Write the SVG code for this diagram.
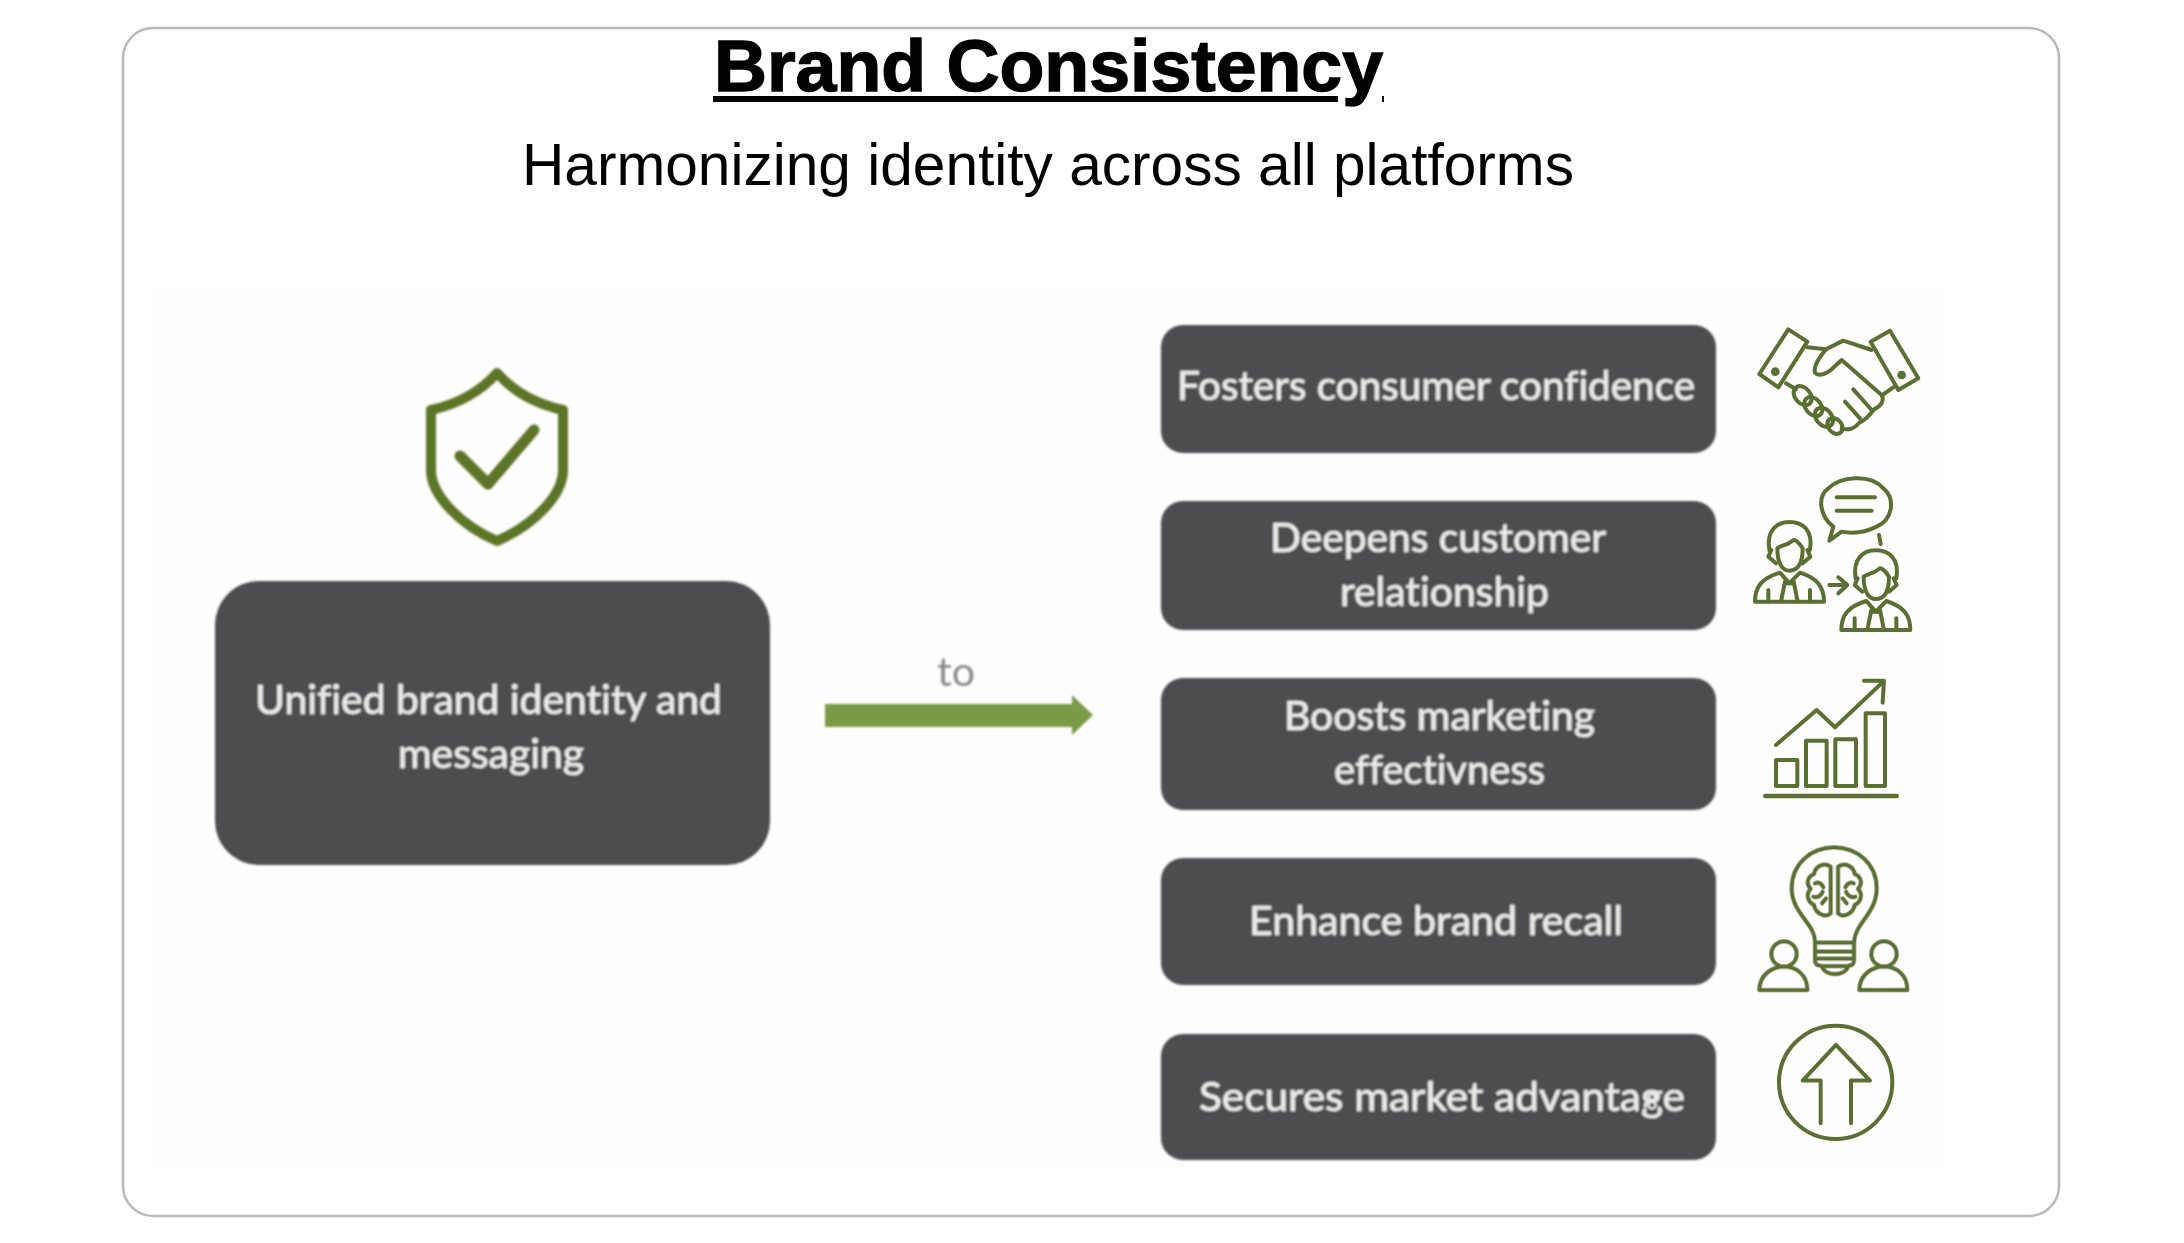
<svg xmlns="http://www.w3.org/2000/svg" width="2184" height="1243" viewBox="0 0 2184 1243">
<style>
.box{fill:#4e4e4f}
.lbl{font-family:"Lato","Carlito","Liberation Sans",sans-serif;font-size:40px;fill:#ececec;stroke:#ececec;stroke-width:.6;font-variant-ligatures:none}
.ico{fill:none;stroke:#5a6f33;stroke-width:12;stroke-linejoin:round;stroke-linecap:round}
.h{font-family:"Liberation Sans",Arial,sans-serif;fill:#000}
</style>
<defs>
<filter id="soft" x="-5%" y="-5%" width="110%" height="110%"><feGaussianBlur stdDeviation="0.9"/></filter>
<g id="man">
<path d="M208,750C198,690 232,666 268,666C308,666 340,690 330,750"/>
<path d="M232,745C232,795 250,812 268,812C290,812 308,795 308,745C298,728 285,718 280,720C265,735 245,735 232,745Z"/>
<path d="M214,750L205,770L228,790M322,750L331,770L308,790"/>
<path d="M165,905C165,860 185,835 240,818L268,850L300,818C352,835 372,860 372,905Z"/>
<path d="M255,845L243,905M281,845L293,905M255,850H281M205,905V870M330,905V870"/>
</g>
<g id="bust">
<circle cx="252" cy="912" r="38"/>
<path d="M178,1020C178,975 215,950 252,950C290,950 322,975 322,1020Z"/>
</g>
</defs>
<rect id="frame" x="123" y="28" width="1936" height="1188" rx="30" fill="#fff" stroke="#b9b9b9" stroke-width="2.5"/>
<rect x="150" y="285" width="1793" height="885" fill="#fefefe"/>
<g id="title">
<text class="h" x="714" y="91" font-size="72" font-weight="700" stroke="#000" stroke-width="1.4" textLength="669" lengthAdjust="spacingAndGlyphs">Brand Consistency</text>
<rect x="713" y="96" width="625" height="6" fill="#000"/>
<rect x="1382" y="96" width="2" height="6" fill="#000"/>
</g>
<g id="subtitle"><text class="h" x="522" y="185" font-size="60" textLength="1052" lengthAdjust="spacingAndGlyphs">Harmonizing identity across all platforms</text></g>

<g id="connectors" filter="url(#soft)">
<path d="M825,704H1072V695L1093,715L1072,735V727H825Z" fill="#7a9a45"/>
<text x="937" y="686" font-family="Lato,'Liberation Sans',sans-serif" font-size="40" fill="#8a8a8a" textLength="38" lengthAdjust="spacingAndGlyphs">to</text>
</g>

<g id="shield" class="ico" filter="url(#soft)" style="stroke:#5b7526;stroke-width:10">
<path d="M497,373C480,392 458,404 431,410V470C431,495 460,525 497,541C534,525 563,495 563,470V410C536,404 514,392 497,373Z"/>
<path d="M460,456L488,484L534,430" stroke-width="11"/>
</g>

<g id="n-unified" filter="url(#soft)">
<rect class="box" x="215" y="581" width="555" height="284" rx="44"/>
<text class="lbl" x="255" y="714" textLength="467" lengthAdjust="spacingAndGlyphs">Unified brand identity and</text>
<text class="lbl" x="398" y="768" textLength="186" lengthAdjust="spacingAndGlyphs">messaging</text>
</g>
<g id="n-fosters" filter="url(#soft)">
<rect class="box" x="1161" y="325" width="555" height="128" rx="22"/>
<text class="lbl" x="1177" y="400" textLength="518" lengthAdjust="spacingAndGlyphs">Fosters consumer confidence</text>
</g>
<g id="n-deepens" filter="url(#soft)">
<rect class="box" x="1161" y="501" width="555" height="129" rx="22"/>
<text class="lbl" x="1270" y="552" textLength="336" lengthAdjust="spacingAndGlyphs">Deepens customer</text>
<text class="lbl" x="1340" y="606" textLength="209" lengthAdjust="spacingAndGlyphs">relationship</text>
</g>
<g id="n-boosts" filter="url(#soft)">
<rect class="box" x="1161" y="678" width="555" height="132" rx="22"/>
<text class="lbl" x="1284" y="730" textLength="311" lengthAdjust="spacingAndGlyphs">Boosts marketing</text>
<text class="lbl" x="1334" y="784" textLength="211" lengthAdjust="spacingAndGlyphs">effectivness</text>
</g>
<g id="n-enhance" filter="url(#soft)">
<rect class="box" x="1161" y="858" width="555" height="127" rx="22"/>
<text class="lbl" x="1249" y="935" textLength="374" lengthAdjust="spacingAndGlyphs">Enhance brand recall</text>
</g>
<g id="n-secures" filter="url(#soft)">
<rect class="box" x="1161" y="1034" width="555" height="126" rx="22"/>
<text class="lbl" x="1199" y="1111" textLength="486" lengthAdjust="spacingAndGlyphs">Secures market advantage</text>
<ellipse cx="1652" cy="1108" rx="6" ry="4" fill="#3a3a3a"/>
<circle cx="1652" cy="1097" r="3.2" fill="none" stroke="#ececec" stroke-width="2.4"/>
<circle cx="1652" cy="1105" r="3.6" fill="none" stroke="#ececec" stroke-width="2.4"/>
</g>

<g id="i-handshake" class="ico" filter="url(#soft)" transform="translate(1700,300) scale(.3333)">
<path d="M265,88L322,125L235,262L178,222Z"/>
<path d="M570,92L655,235L595,270L512,125Z"/>
<circle cx="226" cy="215" r="7"/><circle cx="605" cy="225" r="7"/>
<path d="M322,142L378,148L430,122L515,150"/>
<path d="M378,148C355,175 340,200 345,218C355,230 375,222 390,212L425,180L545,285C555,305 540,320 522,328C510,345 495,360 478,368C465,385 445,392 425,385"/>
<path d="M460,268L515,330M435,305L480,355M580,262L548,285M258,250L288,268"/>
<ellipse cx="308" cy="287" rx="32" ry="23" transform="rotate(50 308 287)"/>
<ellipse cx="340" cy="320" rx="32" ry="23" transform="rotate(50 340 320)"/>
<ellipse cx="372" cy="352" rx="32" ry="23" transform="rotate(50 372 352)"/>
<ellipse cx="405" cy="378" rx="26" ry="20" transform="rotate(50 405 378)"/>
</g>
<g id="i-people" class="ico" filter="url(#soft)" transform="translate(1700,300) scale(.3333)">
<use href="#man"/>
<use href="#man" transform="translate(259,85)"/>
<path d="M400,680C360,650 350,590 385,565C420,530 510,520 550,565C590,600 575,660 530,680C490,700 450,700 425,695L388,722Z"/>
<path d="M410,592H525M410,632H515M537,705L542,732M388,855H440M415,832L442,855L415,880"/>
</g>
<g id="i-chart" class="ico" filter="url(#soft)" transform="translate(1700,650) scale(.3333)">
<rect x="228" y="330" width="64" height="78"/>
<rect x="318" y="272" width="62" height="136"/>
<rect x="406" y="268" width="62" height="140"/>
<rect x="497" y="190" width="58" height="218"/>
<path d="M196,438H590" stroke-width="14"/>
<path d="M228,285L350,180L405,232L550,95M492,92H552L548,158"/>
</g>
<g id="i-bulb" class="ico" filter="url(#soft)" transform="translate(1700,650) scale(.3333)">
<path d="M345,875C345,820 275,790 275,715C275,640 335,592 402,592C470,592 530,640 530,715C530,790 465,820 462,875"/>
<path d="M345,878H462V932C462,945 450,948 440,948H367C355,948 345,945 345,932ZM345,905H462M345,926H462M365,948C375,980 435,980 445,948"/>
<path d="M392,650C370,635 345,650 342,672C320,682 318,702 332,716C315,735 325,757 342,765C346,790 375,805 392,790ZM414,650C436,635 461,650 464,672C486,682 488,702 474,716C491,735 481,757 464,765C460,790 431,805 414,790Z"/>
<path d="M345,700C355,695 365,700 370,712M340,740C352,745 365,735 368,725M366,760L378,745M461,700C451,695 441,700 436,712M466,740C454,745 441,735 438,725M440,760L428,745"/>
<use href="#bust"/>
<use href="#bust" transform="translate(300,0)"/>
</g>
<g id="i-up" class="ico" filter="url(#soft)" transform="translate(1700,650) scale(.3333)">
<circle cx="407" cy="1297" r="170"/>
<path d="M362,1420V1292H308L408,1185L510,1292H453V1420"/>
</g>
</svg>
